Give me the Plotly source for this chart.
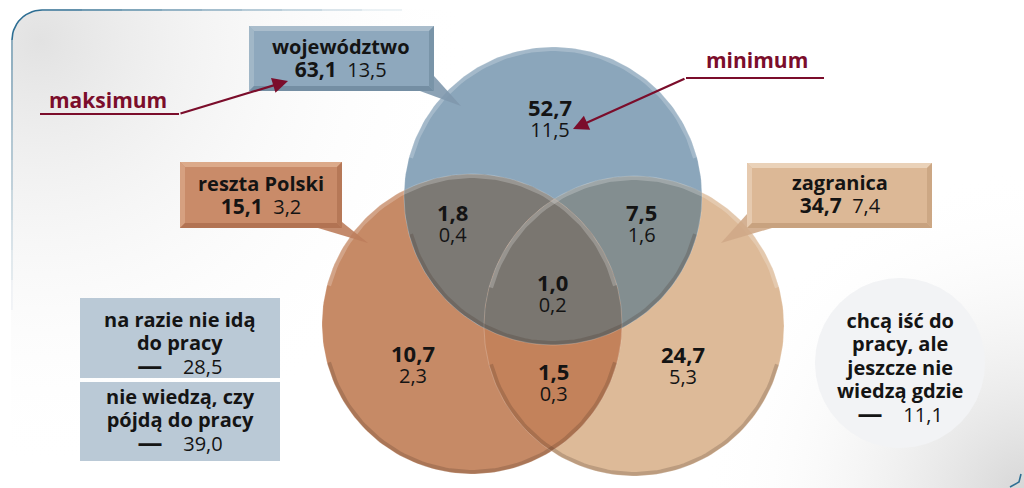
import numpy as np
import plotly.graph_objects as go

# ---------------- data ----------------
set_names = ["województwo", "reszta Polski", "zagranica"]
set_totals = [63.1, 15.1, 34.7]
set_shares = [13.5, 3.2, 7.4]

region_keys = ["W", "WR", "WZ", "WRZ", "R", "RZ", "Z"]
region_totals = [52.7, 1.8, 7.5, 1.0, 10.7, 1.5, 24.7]
region_shares = [11.5, 0.4, 1.6, 0.2, 2.3, 0.3, 5.3]

other_labels = ["na razie nie idą<br>do pracy",
                "nie wiedzą, czy<br>pójdą do pracy",
                "chcą iść do<br>pracy, ale<br>jeszcze nie<br>wiedzą gdzie"]
other_values = [28.5, 39.0, 11.1]

marker_labels = ["maksimum", "minimum"]

# ---------------- style / layout ----------------
W, H = 1024, 488
FONT = "Open Sans, Noto Sans, DejaVu Sans, sans-serif"
TXT = "#141414"
MAROON = "#7b0d2b"


def fmt(v):
    return f"{v:.1f}".replace(".", ",")


def sp(s, size, bold=False):
    s = f'<span style="font-size:{size}px">{s}</span>'
    return f"<b>{s}</b>" if bold else s


circles = {  # center x, center y, radius (pixel layout)
    "W": (553, 196, 149),
    "R": (472, 324, 150),
    "Z": (634, 326, 150),
}
circle_fill = {"W": "#8ba6bb", "R": "#c68a66", "Z": "#ddba98"}
lens_fill = {"WR": "#7c7974", "WZ": "#838e90", "RZ": "#c3825b", "WRZ": "#7a7670"}

fig = go.Figure()


def poly_trace(xs, ys, color):
    fig.add_trace(go.Scatter(x=list(xs), y=list(ys), mode="lines", fill="toself",
                             fillcolor=color, line=dict(width=0, color=color),
                             hoverinfo="skip", showlegend=False))


def circle_pts(c, n=240):
    cx, cy, r = c
    t = np.linspace(0, 2 * np.pi, n)
    return cx + r * np.cos(t), cy + r * np.sin(t)


def glow(c, inner, outer):
    gx, gy = circle_pts(c, 200)
    fig.add_trace(go.Scatter(x=gx, y=gy, mode="lines", fill="toself",
                             fillgradient=dict(type="radial", colorscale=[[0, inner], [1, outer]]),
                             line=dict(width=0), hoverinfo="skip", showlegend=False))


# background: soft grey glows at top-left and bottom-right
glow((40, 40, 430), "rgba(226,226,226,1)", "rgba(255,255,255,0)")
glow((1030, 500, 330), "rgba(212,212,212,1)", "rgba(255,255,255,0)")

# white outside the rounded panel corner
poly_trace([0, 1024, 1024, 0, 0], [0, 0, 9, 9, 0], "white")
poly_trace([0, 11, 11, 0, 0], [0, 0, 488, 488, 0], "white")
cxs = [12 + 30 - 30 * np.cos(np.radians(a)) for a in np.linspace(0, 90, 15)]
cys = [10 + 30 - 30 * np.sin(np.radians(a)) for a in np.linspace(0, 90, 15)]
poly_trace([0] + cxs + [0], [0] + cys + [0], "white")

# panel border fragments (fading)
fig.add_trace(go.Scatter(x=cxs, y=cys, mode="lines",
                         line=dict(color="#2d6e93", width=1.6), hoverinfo="skip", showlegend=False))
for i, op in enumerate(np.linspace(0.95, 0.0, 10)):
    x_a, x_b = 42 + i * 40, 42 + (i + 1) * 40
    fig.add_trace(go.Scatter(x=[x_a, x_b], y=[10, 10], mode="lines",
                             line=dict(color=f"rgba(45,110,147,{op:.2f})", width=1.6),
                             hoverinfo="skip", showlegend=False))
    y_a, y_b = 40 + i * 30, 40 + (i + 1) * 30
    fig.add_trace(go.Scatter(x=[12, 12], y=[y_a, y_b], mode="lines",
                             line=dict(color=f"rgba(45,110,147,{op * 0.6:.2f})", width=1.6),
                             hoverinfo="skip", showlegend=False))
fig.add_trace(go.Scatter(x=[1010, 1019, 1021], y=[487, 482, 474], mode="lines",
                         line=dict(color="#2d6e93", width=1.6), hoverinfo="skip", showlegend=False))


def inside(x, y, c, tol=0.6):
    cx, cy, r = c
    return (x - cx) ** 2 + (y - cy) ** 2 <= (r + tol) ** 2


def intersection(keys, n=720):
    xs, ys = [], []
    for k in keys:
        cx, cy = circle_pts(circles[k], n)
        m = np.ones_like(cx, dtype=bool)
        for o in keys:
            if o != k:
                m &= inside(cx, cy, circles[o])
        xs.append(cx[m]); ys.append(cy[m])
    xs = np.concatenate(xs); ys = np.concatenate(ys)
    mx, my = xs.mean(), ys.mean()
    order = np.argsort(np.arctan2(ys - my, xs - mx))
    xs, ys = xs[order], ys[order]
    return np.append(xs, xs[0]), np.append(ys, ys[0])


for k in ["Z", "R", "W"]:
    cx, cy = circle_pts(circles[k])
    poly_trace(cx, cy, circle_fill[k])

for key in ["WR", "WZ", "RZ", "WRZ"]:
    lx, ly = intersection(list(key))
    poly_trace(lx, ly, lens_fill[key])

# bevel rims on circles
for k in ["Z", "R", "W"]:
    cx, cy, r = circles[k]
    t = np.linspace(np.radians(15), np.radians(165), 80)  # lower arc (y down)
    fig.add_trace(go.Scatter(x=cx + (r - 2) * np.cos(t), y=cy + (r - 2) * np.sin(t), mode="lines",
                             line=dict(color="rgba(60,40,30,0.2)", width=4), hoverinfo="skip", showlegend=False))
    t = np.linspace(np.radians(195), np.radians(345), 80)  # upper arc
    fig.add_trace(go.Scatter(x=cx + (r - 2) * np.cos(t), y=cy + (r - 2) * np.sin(t), mode="lines",
                             line=dict(color="rgba(255,255,255,0.22)", width=4), hoverinfo="skip", showlegend=False))
    ox, oy = circle_pts(circles[k])
    fig.add_trace(go.Scatter(x=ox, y=oy, mode="lines", line=dict(color="rgba(255,255,255,0.25)", width=0.8),
                             hoverinfo="skip", showlegend=False))

# white circle for "chcą iść do pracy..."
wx, wy = circle_pts((900, 363, 85))
poly_trace(wx, wy, "#f2f3f5")

shapes = []


def path(pts):
    return "M " + " L ".join(f"{x},{y}" for x, y in pts) + " Z"


def bevel_box(x0, y0, x1, y1, fill, light, dark, b=5):
    shapes.append(dict(type="rect", x0=x0, y0=y0, x1=x1, y1=y1, fillcolor=fill, line=dict(width=0), layer="above"))
    shapes.append(dict(type="path", path=path([(x0, y0), (x1, y0), (x1 - b, y0 + b), (x0 + b, y0 + b)]),
                       fillcolor=light, line=dict(width=0), layer="above"))
    shapes.append(dict(type="path", path=path([(x0, y0), (x0 + b, y0 + b), (x0 + b, y1 - b), (x0, y1)]),
                       fillcolor=light, opacity=0.7, line=dict(width=0), layer="above"))
    shapes.append(dict(type="path", path=path([(x0, y1), (x0 + b, y1 - b), (x1 - b, y1 - b), (x1, y1)]),
                       fillcolor=dark, line=dict(width=0), layer="above"))
    shapes.append(dict(type="path", path=path([(x1, y0), (x1, y1), (x1 - b, y1 - b), (x1 - b, y0 + b)]),
                       fillcolor=dark, opacity=0.8, line=dict(width=0), layer="above"))


# tails
shapes.append(dict(type="path", path=path([(420, 91), (434, 76), (461, 106)]), fillcolor="#7f98ad",
                   opacity=0.9, line=dict(width=0)))
shapes.append(dict(type="path", path=path([(318, 228), (342, 222), (368, 243)]), fillcolor="#bd7d5c",
                   opacity=0.9, line=dict(width=0)))
shapes.append(dict(type="path", path=path([(747, 214), (772, 228), (721, 243)]), fillcolor="#cfa887",
                   opacity=0.9, line=dict(width=0)))

bevel_box(249, 26, 434, 91, "#8ea8bd", "#aabdcc", "#748ea3")
bevel_box(180, 162, 342, 228, "#c98b69", "#dcaa8a", "#b27353")
bevel_box(747, 163, 932, 228, "#dcb896", "#ead2b9", "#c8a27f")

# left grey-blue boxes
shapes.append(dict(type="rect", x0=80, y0=298, x1=280, y1=378, fillcolor="#bac9d6", line=dict(width=0)))
shapes.append(dict(type="rect", x0=80, y0=382, x1=280, y1=461, fillcolor="#bac9d6", line=dict(width=0)))

# marker underlines
shapes.append(dict(type="line", x0=40, y0=114, x1=179, y1=114, line=dict(color=MAROON, width=2.2)))
shapes.append(dict(type="line", x0=686, y0=78, x1=824, y1=78, line=dict(color=MAROON, width=2.2)))

annotations = []


def txt(x, y, s, base=17, color=TXT):
    annotations.append(dict(x=x, y=y, text=s, showarrow=False, xanchor="center", yanchor="middle",
                            font=dict(family=FONT, size=base, color=color)))


# set boxes (two lines each)
box_pos = [(341, 58), (261, 195), (840, 194)]
for name, tot, sh, (bx, by) in zip(set_names, set_totals, set_shares, box_pos):
    txt(bx, by, sp(name, 20, True) + "<br>" + sp(fmt(tot), 21, True) + sp("  " + fmt(sh), 20), base=17.5)

# region labels
region_pos = {"W": (550, 117), "WR": (452, 222), "WZ": (641, 222), "WRZ": (552, 292),
              "R": (413, 363), "RZ": (553, 381), "Z": (683, 364)}
for k, tot, sh in zip(region_keys, region_totals, region_shares):
    x, y = region_pos[k]
    txt(x, y, sp(fmt(tot), 22, True) + "<br>" + sp(fmt(sh), 20), base=16)

# other categories
other_pos = [(180, 343), (180, 420), (900, 368)]
for lab, val, (ox, oy) in zip(other_labels, other_values, other_pos):
    lines = [sp(l, 20, True) for l in lab.split("<br>")]
    lines.append(sp("—", 25, True) + sp("    " + fmt(val), 20))
    txt(ox, oy, "<br>".join(lines), base=18)

# markers
txt(108, 100, sp(marker_labels[0], 21, True), base=21, color=MAROON)
txt(757, 60, sp(marker_labels[1], 21, True), base=21, color=MAROON)
annotations.append(dict(x=288, y=81, ax=179, ay=114, xref="x", yref="y", axref="x", ayref="y", text="",
                        showarrow=True, arrowhead=2, arrowsize=1.4, arrowwidth=2.2, arrowcolor=MAROON, standoff=0))
annotations.append(dict(x=573, y=129, ax=686, ay=78, xref="x", yref="y", axref="x", ayref="y", text="",
                        showarrow=True, arrowhead=2, arrowsize=1.4, arrowwidth=2.2, arrowcolor=MAROON, standoff=0))

fig.update_layout(
    width=W, height=H, autosize=False,
    margin=dict(l=0, r=0, t=0, b=0, pad=0),
    paper_bgcolor="white", plot_bgcolor="white",
    xaxis=dict(range=[0, W], visible=False, fixedrange=True),
    yaxis=dict(range=[H, 0], visible=False, fixedrange=True),
    shapes=shapes, annotations=annotations, showlegend=False,
)

fig.write_html("out.html", config={"displayModeBar": False},
               post_script="document.body.style.margin='0';document.documentElement.style.overflow='hidden';")
